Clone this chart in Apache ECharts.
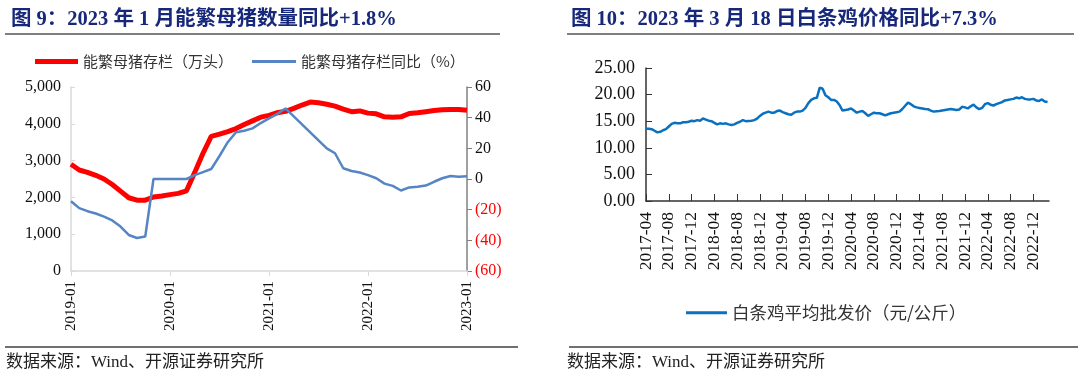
<!DOCTYPE html>
<html>
<head>
<meta charset="utf-8">
<script src="https://cdn.jsdelivr.net/npm/echarts@6/dist/echarts.min.js"></script>
<style>
html,body{margin:0;padding:0;background:#fff;}
#c{width:1080px;height:387px;}
</style>
</head>
<body>
<div id="c"></div>
<script>
// ---------- Data: Figure 9 ----------
const sowMonths = ['2019-01','2019-02','2019-03','2019-04','2019-05','2019-06','2019-07','2019-08','2019-09','2019-10','2019-11','2019-12',
  '2020-01','2020-02','2020-03','2020-04','2020-05','2020-06','2020-07','2020-08','2020-09','2020-10','2020-11','2020-12',
  '2021-01','2021-02','2021-03','2021-04','2021-05','2021-06','2021-07','2021-08','2021-09','2021-10','2021-11','2021-12',
  '2022-01','2022-02','2022-03','2022-04','2022-05','2022-06','2022-07','2022-08','2022-09','2022-10','2022-11','2022-12','2023-01'];
const sowStock = [2900,2745,2680,2600,2500,2350,2170,1990,1925,1925,2010,2040,
  2075,2110,2180,2680,3200,3660,3720,3790,3870,3980,4080,4180,
  4230,4300,4340,4420,4510,4590,4570,4530,4480,4400,4330,4350,
  4290,4270,4190,4180,4190,4280,4300,4330,4360,4380,4390,4390,4370];
const sowYoY = [-14.5,-19,-21,-22.5,-24.5,-27,-31,-36.5,-38.5,-37.5,0,0,
  0,0,0,2.5,4.5,6.5,15,24,30.5,31.5,33,36.5,
  39.5,42.5,46,40.8,35.6,30.4,25.2,20,16.8,7,5.2,4.2,
  2.5,0.5,-3,-4.5,-7.5,-5.5,-5,-4.3,-1.8,0.5,2,1.5,1.8];
const leftTicks = [0,1000,2000,3000,4000,5000];
const rightTicks = [-60,-40,-20,0,20,40,60];

// ---------- Data: Figure 10 (half-month samples starting 2017-04) ----------
const chickenStart = '2017-04';
const chickenStepMonths = 0.5;
const chickenPrice = [13.6,13.6,13.5,13.2,12.9,13.0,13.3,13.5,14.0,14.5,14.7,14.6,14.6,14.8,14.8,14.9,15.1,15.0,15.2,15.1,
  15.5,15.3,15.1,15.0,14.7,14.4,14.6,14.5,14.6,14.4,14.3,14.4,14.7,14.9,15.2,15.0,15.05,15.1,15.2,15.5,
  16.0,16.4,16.6,16.8,16.6,16.6,16.9,17.0,16.7,16.5,16.3,16.2,16.6,16.8,16.8,17.0,17.5,18.4,19.0,19.3,
  19.4,21.3,21.1,19.9,19.5,19.0,19.0,18.7,18.0,17.0,17.1,17.2,17.4,17.0,16.6,16.8,16.9,16.5,16.0,16.3,
  16.6,16.5,16.5,16.3,16.1,16.3,16.5,16.6,16.7,16.8,17.3,17.9,18.5,18.2,17.8,17.6,17.5,17.4,17.3,17.25,
  17.0,16.8,16.85,16.9,17.0,17.1,17.2,17.3,17.2,17.1,17.2,17.7,17.6,17.4,17.8,18.1,17.6,17.25,17.5,18.2,
  18.4,18.1,17.95,18.2,18.4,18.6,18.9,19.0,19.1,19.2,19.45,19.3,19.5,19.2,19.1,19.1,19.2,18.9,18.8,19.1,
  18.7,18.6];
const chickenLabelMonths = ['2017-04','2017-08','2017-12','2018-04','2018-08','2018-12','2019-04','2019-08','2019-12',
  '2020-04','2020-08','2020-12','2021-04','2021-08','2021-12','2022-04','2022-08','2022-12'];
const chickenTicks = [0,5,10,15,20,25];

// ---------- Text ----------
const title9 = '图 9：2023 年 1 月能繁母猪数量同比+1.8%';
const title10 = '图 10：2023 年 3 月 18 日白条鸡价格同比+7.3%';
const sourceText = '数据来源：Wind、开源证券研究所';
const nameStock = '能繁母猪存栏（万头）';
const nameYoY = '能繁母猪存栏同比（%）';
const nameChicken = '白条鸡平均批发价（元/公斤）';

// helpers
const [sy, sm] = chickenStart.split('-').map(Number);
function monthOffset(label){ const [y,m]=label.split('-').map(Number); return (y-sy)*12 + (m-sm); }
function offsetLabel(v){ const t = Math.round(v) + (sm-1); const y = sy + Math.floor(t/12); const m = t%12+1; return y+'-'+(m<10?'0':'')+m; }
const chickenData = chickenPrice.map((v,i)=>[i*chickenStepMonths, v]);
const chickenTickVals = chickenLabelMonths.map(monthOffset);

const serif = '"Liberation Serif","Times New Roman",serif';
const cjk = '"Noto Sans CJK SC","Liberation Serif",serif';
const mixed = '"Liberation Serif","Noto Sans CJK SC",serif';
const titleColor = '#17287a';
const RED = '#ff0000', BLUE = '#5585c3', CBLUE = '#0a70c0';

const chart = echarts.init(document.getElementById('c'), null, {renderer:'canvas'});
chart.setOption({
  animation:false,
  backgroundColor:'#fff',
  title:[
    {text:title9, left:6, top:4, textStyle:{fontFamily:mixed, fontWeight:'bold', fontSize:20.5, color:titleColor}},
    {text:title10, left:566, top:4, textStyle:{fontFamily:mixed, fontWeight:'bold', fontSize:20.5, color:titleColor}}
  ],
  graphic:[
    {type:'line', shape:{x1:5,y1:34,x2:500,y2:34}, style:{stroke:'#7f7f7f', lineWidth:2}},
    {type:'line', shape:{x1:567,y1:34,x2:1074,y2:34}, style:{stroke:'#7f7f7f', lineWidth:2}},
    {type:'line', shape:{x1:5,y1:347,x2:518,y2:347}, style:{stroke:'#404040', lineWidth:1.5}},
    {type:'line', shape:{x1:569,y1:347,x2:1078,y2:347}, style:{stroke:'#404040', lineWidth:1.5}},
    {type:'text', left:6, top:354, style:{text:sourceText, font:'17px '+mixed, fill:'#222'}},
    {type:'text', left:567, top:354, style:{text:sourceText, font:'17px '+mixed, fill:'#222'}}
  ],
  legend:[
    {left:30, top:49, icon:'rect', itemWidth:43, itemHeight:5, itemGap:0, data:[nameStock],
     textStyle:{fontFamily:cjk, fontSize:15, color:'#333', padding:[0,0,0,0]}},
    {left:247, top:49, icon:'rect', itemWidth:44, itemHeight:3, itemGap:0, data:[nameYoY],
     textStyle:{fontFamily:cjk, fontSize:15, color:'#333'}},
    {left:681, top:299, icon:'rect', itemWidth:41, itemHeight:3, data:[nameChicken],
     textStyle:{fontFamily:cjk, fontSize:17.5, color:'#333'}}
  ],
  grid:[
    {left:71, right:613, top:87, bottom:116},
    {left:646, right:31, top:68, bottom:186}
  ],
  xAxis:[
    {type:'category', gridIndex:0, data:sowMonths, boundaryGap:false,
     axisLine:{lineStyle:{color:'#d9d9d9', width:1.5}},
     axisTick:{interval:11, length:5, lineStyle:{color:'#d9d9d9'}},
     axisLabel:{interval:11, rotate:90, margin:10, color:'#111', fontFamily:serif, fontSize:15},
     splitLine:{show:false}},
    {type:'value', gridIndex:1, min:0, max:70.75,
     axisLine:{lineStyle:{color:'#333', width:1.5}},
     axisTick:{inside:true, length:7, customValues:chickenTickVals, lineStyle:{color:'#333'}},
     axisLabel:{customValues:chickenTickVals, formatter:offsetLabel, rotate:90, margin:11, color:'#111', fontFamily:serif, fontSize:17.5},
     splitLine:{show:false}}
  ],
  yAxis:[
    {type:'value', gridIndex:0, min:0, max:5000, interval:1000,
     axisLine:{show:true, lineStyle:{color:'#d9d9d9', width:1.5}},
     axisTick:{show:true, inside:true, length:4, lineStyle:{color:'#d9d9d9'}},
     axisLabel:{color:'#111', fontFamily:serif, fontSize:16, margin:10,
       formatter:v=>leftTicks.includes(v)? v.toLocaleString('en-US'):''},
     splitLine:{show:false}},
    {type:'value', gridIndex:0, position:'right', min:-60, max:60, interval:20,
     axisLine:{show:true, lineStyle:{color:'#808080', width:1.5}},
     axisTick:{show:true, length:5, lineStyle:{color:'#808080'}},
     axisLabel:{fontFamily:serif, fontSize:16, margin:8,
       formatter:v=> rightTicks.includes(v) ? (v<0 ? '{r|('+(-v)+')}' : '{b|'+v+'}') : '',
       rich:{r:{color:RED, fontFamily:serif, fontSize:16}, b:{color:'#111', fontFamily:serif, fontSize:16}}},
     splitLine:{show:false}},
    {type:'value', gridIndex:1, min:0, max:25, interval:5,
     axisLine:{show:true, lineStyle:{color:'#333', width:1.5}},
     axisTick:{show:true, inside:true, length:6, lineStyle:{color:'#333'}},
     axisLabel:{color:'#111', fontFamily:serif, fontSize:18, margin:11,
       formatter:v=>chickenTicks.includes(v)? v.toFixed(2):''},
     splitLine:{show:false}}
  ],
  series:[
    {name:nameStock, type:'line', xAxisIndex:0, yAxisIndex:0, data:sowStock, symbol:'none',
     lineStyle:{color:RED, width:5}, itemStyle:{color:RED}},
    {name:nameYoY, type:'line', xAxisIndex:0, yAxisIndex:1, data:sowYoY, symbol:'none',
     lineStyle:{color:BLUE, width:2.5}, itemStyle:{color:BLUE}},
    {name:nameChicken, type:'line', xAxisIndex:1, yAxisIndex:2, data:chickenData, symbol:'none',
     lineStyle:{color:CBLUE, width:2.5}, itemStyle:{color:CBLUE}}
  ]
});
</script>
</body>
</html>
